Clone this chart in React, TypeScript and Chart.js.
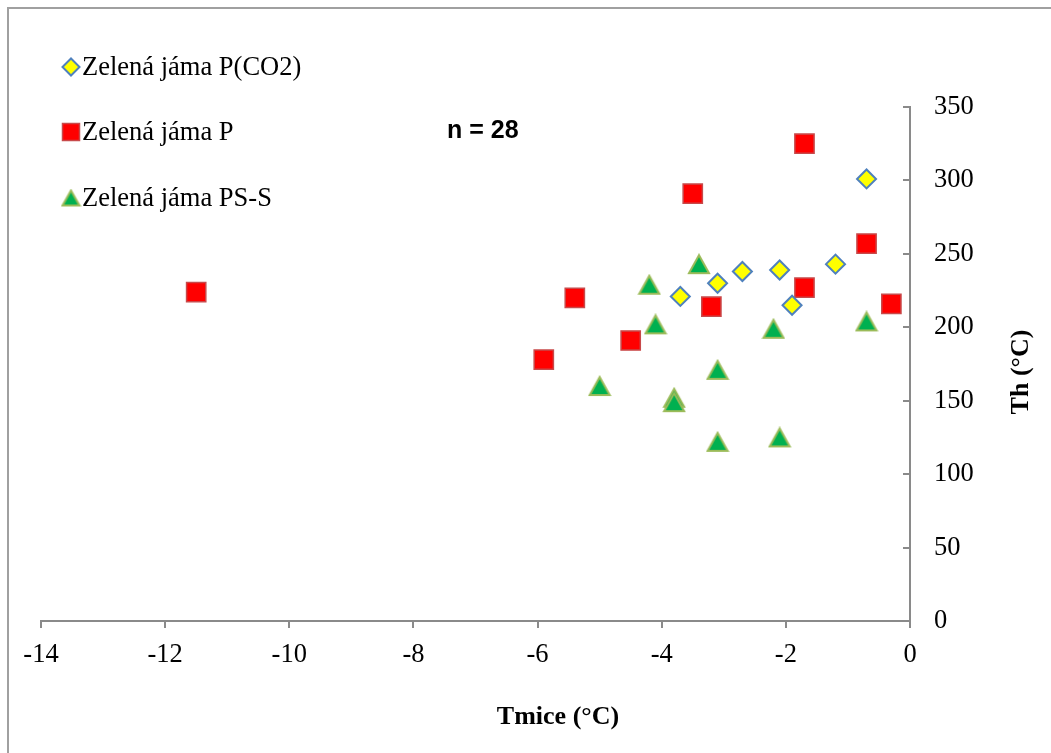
import React, { useEffect, useRef } from 'react';
import { Chart, registerables } from 'chart.js';

Chart.register(...registerables);

// ---- data ----
const co2Label = 'Zelená jáma P(CO2)';
const co2X = [-0.7, -1.2, -2.1, -2.7, -3.1, -3.7, -1.9];
const co2Y = [301, 243, 239, 238, 230, 221, 215];

const pLabel = 'Zelená jáma P';
const pX = [-1.7, -3.5, -0.7, -1.7, -0.3, -3.2, -5.4, -4.5, -5.9, -11.5];
const pY = [325, 291, 257, 227, 216, 214, 220, 191, 178, 224];

const pssLabel = 'Zelená jáma PS-S';
const pssX = [-3.4, -4.2, -4.1, -2.2, -0.7, -3.1, -5.0, -3.8, -3.8, -3.1, -2.1];
const pssY = [243, 229, 202, 199, 204, 171, 160, 152, 149, 122, 125];

const xMin = -14;
const xMax = 0;
const xStep = 2;
const yMin = 0;
const yMax = 350;
const yStep = 50;

const xTitle = 'Tmice (°C)';
const yTitle = 'Th (°C)';
const note = 'n = 28';

const toPoints = (xs: number[], ys: number[]) => xs.map((x, i) => ({ x, y: ys[i] }));

const SERIF = "'Liberation Serif', 'Times New Roman', serif";
const SANS = "'Liberation Sans', Arial, sans-serif";

const YELLOW = '#FFFF00';
const BLUE = '#4F81BD';
const RED = '#FF0000';
const RED_EDGE = '#C8494A';
const GREEN = '#00B050';
const GREEN_EDGE = '#9BBB59';
const AXIS = '#8A8A8A';

function makeTriangle(w: number, h: number): HTMLCanvasElement {
  const c = document.createElement('canvas');
  c.width = w + 4;
  c.height = h + 4;
  const ctx = c.getContext('2d')!;
  ctx.beginPath();
  ctx.moveTo(c.width / 2, 2);
  ctx.lineTo(c.width - 2, c.height - 2);
  ctx.lineTo(2, c.height - 2);
  ctx.closePath();
  ctx.fillStyle = GREEN;
  ctx.fill();
  ctx.lineWidth = 2;
  ctx.lineJoin = 'miter';
  ctx.strokeStyle = GREEN_EDGE;
  ctx.stroke();
  return c;
}

export default function App() {
  const ref = useRef<HTMLCanvasElement>(null);

  useEffect(() => {
    document.documentElement.style.overflow = 'hidden';
    const tri = makeTriangle(20, 18);
    const triSmall = makeTriangle(17, 15);

    const overlay = {
      id: 'overlay',
      afterDraw(chart: any) {
        const ctx = chart.ctx as CanvasRenderingContext2D;
        const area = chart.chartArea;
        const yScale = chart.scales.y;
        ctx.save();
        // y ticks drawn inside (left of the right-hand axis)
        ctx.strokeStyle = AXIS;
        ctx.lineWidth = 2;
        yScale.ticks.forEach((t: any) => {
          const py = Math.round(yScale.getPixelForValue(t.value));
          ctx.beginPath();
          ctx.moveTo(area.right - 7, py);
          ctx.lineTo(area.right, py);
          ctx.stroke();
        });

        // legend
        const lx = 62;
        const rows = [58, 123, 189];
        ctx.textBaseline = 'middle';
        ctx.textAlign = 'left';
        // diamond
        ctx.beginPath();
        ctx.moveTo(lx - 8.5, rows[0]);
        ctx.lineTo(lx, rows[0] - 8.5);
        ctx.lineTo(lx + 8.5, rows[0]);
        ctx.lineTo(lx, rows[0] + 8.5);
        ctx.closePath();
        ctx.fillStyle = YELLOW;
        ctx.fill();
        ctx.lineWidth = 2;
        ctx.strokeStyle = BLUE;
        ctx.stroke();
        // square
        ctx.fillStyle = RED;
        ctx.fillRect(lx - 8.5, rows[1] - 8.5, 17, 17);
        ctx.lineWidth = 1.5;
        ctx.strokeStyle = RED_EDGE;
        ctx.strokeRect(lx - 8.5, rows[1] - 8.5, 17, 17);
        // triangle
        ctx.drawImage(triSmall, lx - triSmall.width / 2, rows[2] - triSmall.height / 2);

        ctx.fillStyle = '#000';
        ctx.font = `26.5px ${SERIF}`;
        const labels = [co2Label, pLabel, pssLabel];
        labels.forEach((l, i) => ctx.fillText(l, lx + 11, rows[i] + 1));

        // note
        ctx.font = `bold 25px ${SANS}`;
        ctx.fillText(note, 438, 122);

        // axis titles
        ctx.font = `bold 26px ${SERIF}`;
        ctx.textAlign = 'center';
        ctx.fillText(xTitle, 549, 708);
        ctx.translate(1012, 363);
        ctx.rotate(-Math.PI / 2);
        ctx.fillText(yTitle, 0, 0);
        ctx.restore();
      },
    };

    const chart = new Chart(ref.current!, {
      type: 'scatter',
      data: {
        datasets: [
          {
            label: co2Label,
            data: toPoints(co2X, co2Y),
            pointStyle: 'rectRot',
            pointRadius: 9.5,
            pointHoverRadius: 9.5,
            backgroundColor: YELLOW,
            borderColor: BLUE,
            borderWidth: 2,
          },
          {
            label: pLabel,
            data: toPoints(pX, pY),
            pointStyle: 'rect',
            pointRadius: 13.6,
            pointHoverRadius: 13.6,
            backgroundColor: RED,
            borderColor: RED_EDGE,
            borderWidth: 1.5,
          },
          {
            label: pssLabel,
            data: toPoints(pssX, pssY),
            pointStyle: tri as any,
            pointRadius: 12,
            pointHoverRadius: 12,
            backgroundColor: GREEN,
            borderColor: GREEN_EDGE,
          },
        ],
      },
      options: {
        responsive: false,
        animation: false,
        events: [],
        layout: { padding: { left: 32, top: 98, right: 0, bottom: 0 } },
        plugins: {
          legend: { display: false },
          tooltip: { enabled: false },
          title: { display: false },
        },
        scales: {
          x: {
            type: 'linear',
            position: 'bottom',
            min: xMin,
            max: xMax,
            ticks: {
              stepSize: xStep,
              color: '#000',
              font: { family: SERIF, size: 26.5 },
              padding: 11,
              maxRotation: 0,
            },
            grid: {
              display: true,
              drawOnChartArea: false,
              drawTicks: true,
              tickLength: 7,
              color: AXIS,
              lineWidth: 2,
            },
            border: { display: true, color: AXIS, width: 2 },
            afterFit: (s: any) => {
              s.height = 132;
            },
          },
          y: {
            type: 'linear',
            position: 'right',
            min: yMin,
            max: yMax,
            ticks: {
              stepSize: yStep,
              color: '#000',
              font: { family: SERIF, size: 26.5 },
              padding: 24,
            },
            grid: { display: false, drawTicks: false },
            border: { display: true, color: AXIS, width: 2 },
            afterFit: (s: any) => {
              s.width = 141;
            },
          },
        },
      },
      plugins: [overlay],
    });
    return () => chart.destroy();
  }, []);

  return (
    <div
      style={{
        position: 'fixed',
        left: 7,
        top: 7,
        width: 1044,
        height: 746,
        borderLeft: '2px solid #A0A0A0',
        borderTop: '2px solid #A0A0A0',
        boxSizing: 'border-box',
        background: '#fff',
      }}
    >
      <canvas ref={ref} width={1042} height={744} style={{ display: 'block', width: 1042, height: 744 }} />
    </div>
  );
}
